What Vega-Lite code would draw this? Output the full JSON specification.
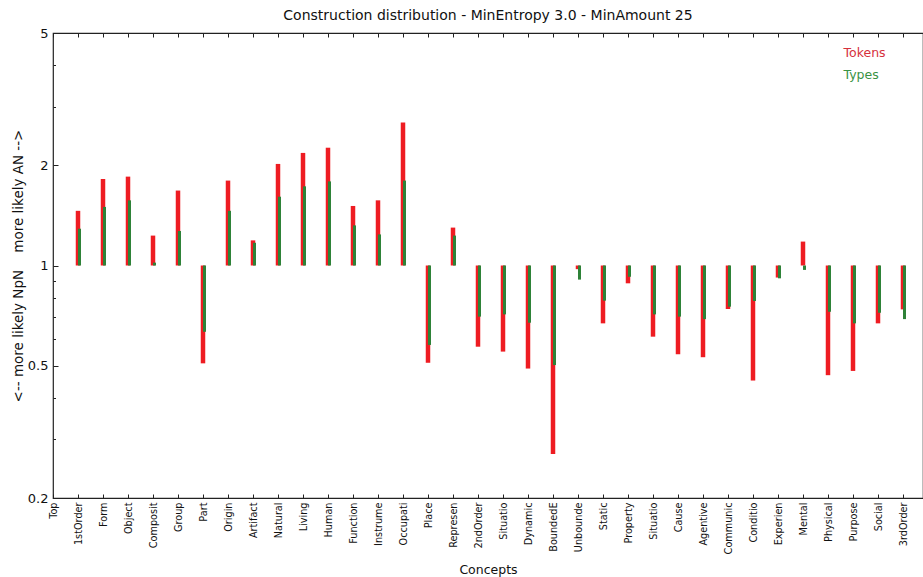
{
  "$schema": "https://vega.github.io/schema/vega-lite/v6.json",
  "width": 870,
  "height": 465,
  "autosize": {"type": "none"},
  "padding": {"left": 53, "top": 33, "right": 0, "bottom": 79},
  "background": "white",
  "config": {
    "font": "DejaVu Sans",
    "view": {"stroke": "#222", "strokeWidth": 1.2},
    "axis": {"grid": false, "tickColor": "#222", "labelColor": "#111", "titleColor": "#111", "domainColor": "#222"}
  },
  "title": {
    "text": "Construction distribution - MinEntropy 3.0 - MinAmount 25",
    "fontSize": 14,
    "fontWeight": "normal",
    "color": "#111",
    "offset": 4
  },
  "data": {
    "values": [
      {"concept": "Top", "series": "Tokens", "value": 1},
      {"concept": "1stOrder", "series": "Tokens", "value": 1.46},
      {"concept": "Form", "series": "Tokens", "value": 1.82},
      {"concept": "Object", "series": "Tokens", "value": 1.85},
      {"concept": "Composit", "series": "Tokens", "value": 1.23},
      {"concept": "Group", "series": "Tokens", "value": 1.68},
      {"concept": "Part", "series": "Tokens", "value": 0.508},
      {"concept": "Origin", "series": "Tokens", "value": 1.8},
      {"concept": "Artifact", "series": "Tokens", "value": 1.19},
      {"concept": "Natural", "series": "Tokens", "value": 2.02},
      {"concept": "Living", "series": "Tokens", "value": 2.18},
      {"concept": "Human", "series": "Tokens", "value": 2.26},
      {"concept": "Function", "series": "Tokens", "value": 1.51},
      {"concept": "Instrume", "series": "Tokens", "value": 1.57},
      {"concept": "Occupati", "series": "Tokens", "value": 2.69},
      {"concept": "Place", "series": "Tokens", "value": 0.51},
      {"concept": "Represen", "series": "Tokens", "value": 1.3},
      {"concept": "2ndOrder", "series": "Tokens", "value": 0.57},
      {"concept": "Situatio", "series": "Tokens", "value": 0.551},
      {"concept": "Dynamic", "series": "Tokens", "value": 0.49},
      {"concept": "BoundedE", "series": "Tokens", "value": 0.271},
      {"concept": "Unbounde", "series": "Tokens", "value": 0.975},
      {"concept": "Static", "series": "Tokens", "value": 0.67},
      {"concept": "Property", "series": "Tokens", "value": 0.884},
      {"concept": " Situatio", "series": "Tokens", "value": 0.611},
      {"concept": "Cause", "series": "Tokens", "value": 0.541},
      {"concept": "Agentive", "series": "Tokens", "value": 0.53},
      {"concept": "Communic", "series": "Tokens", "value": 0.74},
      {"concept": "Conditio", "series": "Tokens", "value": 0.451},
      {"concept": "Experien", "series": "Tokens", "value": 0.92},
      {"concept": "Mental", "series": "Tokens", "value": 1.18},
      {"concept": "Physical", "series": "Tokens", "value": 0.468},
      {"concept": "Purpose", "series": "Tokens", "value": 0.482},
      {"concept": "Social", "series": "Tokens", "value": 0.67},
      {"concept": "3rdOrder", "series": "Tokens", "value": 0.738},
      {"concept": "Top", "series": "Types", "value": 1},
      {"concept": "1stOrder", "series": "Types", "value": 1.29},
      {"concept": "Form", "series": "Types", "value": 1.5},
      {"concept": "Object", "series": "Types", "value": 1.57},
      {"concept": "Composit", "series": "Types", "value": 1.02},
      {"concept": "Group", "series": "Types", "value": 1.27},
      {"concept": "Part", "series": "Types", "value": 0.632},
      {"concept": "Origin", "series": "Types", "value": 1.46},
      {"concept": "Artifact", "series": "Types", "value": 1.17},
      {"concept": "Natural", "series": "Types", "value": 1.61},
      {"concept": "Living", "series": "Types", "value": 1.73},
      {"concept": "Human", "series": "Types", "value": 1.79},
      {"concept": "Function", "series": "Types", "value": 1.32},
      {"concept": "Instrume", "series": "Types", "value": 1.24},
      {"concept": "Occupati", "series": "Types", "value": 1.8},
      {"concept": "Place", "series": "Types", "value": 0.577},
      {"concept": "Represen", "series": "Types", "value": 1.23},
      {"concept": "2ndOrder", "series": "Types", "value": 0.702},
      {"concept": "Situatio", "series": "Types", "value": 0.713},
      {"concept": "Dynamic", "series": "Types", "value": 0.673},
      {"concept": "BoundedE", "series": "Types", "value": 0.502},
      {"concept": "Unbounde", "series": "Types", "value": 0.907},
      {"concept": "Static", "series": "Types", "value": 0.784},
      {"concept": "Property", "series": "Types", "value": 0.925},
      {"concept": " Situatio", "series": "Types", "value": 0.713},
      {"concept": "Cause", "series": "Types", "value": 0.702},
      {"concept": "Agentive", "series": "Types", "value": 0.69},
      {"concept": "Communic", "series": "Types", "value": 0.752},
      {"concept": "Conditio", "series": "Types", "value": 0.782},
      {"concept": "Experien", "series": "Types", "value": 0.915},
      {"concept": "Mental", "series": "Types", "value": 0.97},
      {"concept": "Physical", "series": "Types", "value": 0.726},
      {"concept": "Purpose", "series": "Types", "value": 0.67},
      {"concept": "Social", "series": "Types", "value": 0.721},
      {"concept": "3rdOrder", "series": "Types", "value": 0.69}
    ]
  },
  "encoding": {
    "y": {
      "field": "value",
      "type": "quantitative",
      "scale": {"type": "log", "domain": [0.2, 5], "nice": false},
      "axis": {
        "values": [0.2, 0.3, 0.4, 0.5, 0.6, 0.7, 0.8, 0.9, 1, 2, 3, 4, 5],
        "labelExpr": "datum.value == 0.2 ? '0.2' : datum.value == 0.5 ? '0.5' : datum.value == 1 ? '1' : datum.value == 2 ? '2' : datum.value == 5 ? '5' : ''",
        "tickSize": {"condition": {"test": "datum.value == 0.2 || datum.value == 0.5 || datum.value == 1 || datum.value == 2 || datum.value == 5", "value": -5}, "value": -2.5},
        "labelPadding": 10,
        "labelFontSize": 13,
        "domain": false,
        "title": "<-- more likely NpN\u00a0\u00a0\u00a0\u00a0more likely AN -->",
        "titleFontSize": 13.5,
        "titleFontWeight": "normal",
        "titleX": -35,
        "titleY": 232.5,
        "titleAngle": 270,
        "titleAlign": "center",
        "titleBaseline": "middle"
      }
    },
    "y2": {"datum": 1},
    "color": {
      "field": "series",
      "type": "nominal",
      "scale": {"domain": ["Tokens", "Types"], "range": ["#ee1c22", "#2e8238"]},
      "legend": {
        "orient": "none",
        "legendX": 778,
        "legendY": 14,
        "title": null,
        "symbolSize": 0,
        "symbolOpacity": 0,
        "symbolStrokeWidth": 0,
        "labelFontSize": 12.5,
        "labelOffset": 0,
        "rowPadding": 9,
        "encode": {"labels": {"update": {"fill": {"signal": "datum.label == 'Tokens' ? '#d6303c' : '#3a9244'"}}}}
      }
    }
  },
  "layer": [
    {
      "transform": [{"filter": "datum.series == 'Tokens'"}],
      "mark": {"type": "bar", "width": 4.5},
      "encoding": {
        "x": {
          "field": "concept",
          "type": "nominal",
          "scale": {"type": "point", "padding": 0.4, "align": 0, "domain": ["Top", "1stOrder", "Form", "Object", "Composit", "Group", "Part", "Origin", "Artifact", "Natural", "Living", "Human", "Function", "Instrume", "Occupati", "Place", "Represen", "2ndOrder", "Situatio", "Dynamic", "BoundedE", "Unbounde", "Static", "Property", " Situatio", "Cause", "Agentive", "Communic", "Conditio", "Experien", "Mental", "Physical", "Purpose", "Social", "3rdOrder"]},
          "axis": {
            "orient": "bottom",
            "labelAngle": 270,
            "labelFontSize": 9.7,
            "tickSize": -4,
            "labelPadding": 8,
            "domain": false,
            "title": "Concepts",
            "titleFontSize": 12.5,
            "titleFontWeight": "normal",
            "titleY": 75,
            "titleBaseline": "alphabetic"
          }
        }
      }
    },
    {
      "transform": [{"filter": "datum.series == 'Types'"}],
      "mark": {"type": "bar", "width": 3, "xOffset": 1.5},
      "encoding": {
        "x": {
          "field": "concept",
          "type": "nominal",
          "scale": {"type": "point", "padding": 0.4, "align": 0, "domain": ["Top", "1stOrder", "Form", "Object", "Composit", "Group", "Part", "Origin", "Artifact", "Natural", "Living", "Human", "Function", "Instrume", "Occupati", "Place", "Represen", "2ndOrder", "Situatio", "Dynamic", "BoundedE", "Unbounde", "Static", "Property", " Situatio", "Cause", "Agentive", "Communic", "Conditio", "Experien", "Mental", "Physical", "Purpose", "Social", "3rdOrder"]},
          "axis": {
            "orient": "top",
            "labels": false,
            "title": null,
            "domain": false,
            "tickSize": -4
          }
        }
      }
    }
  ],
  "resolve": {"axis": {"x": "independent"}}
}
